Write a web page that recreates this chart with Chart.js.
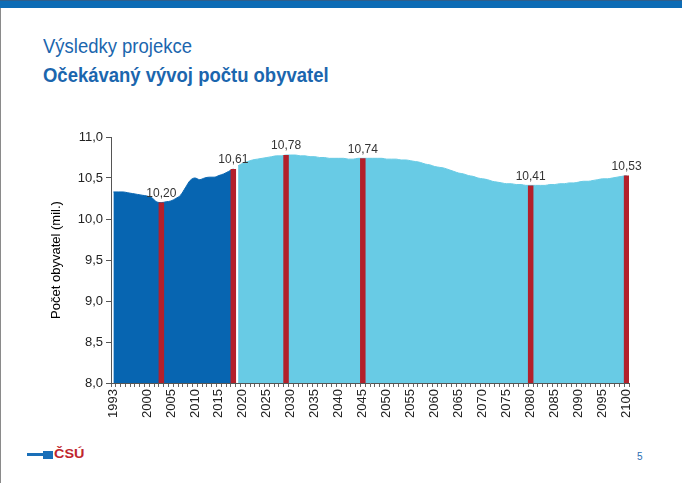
<!DOCTYPE html>
<html>
<head>
<meta charset="utf-8">
<script src="https://cdn.jsdelivr.net/npm/chart.js@4"></script>
<style>
  html, body { margin:0; padding:0; background:#fff; }
  body { width:682px; height:483px; position:relative; overflow:hidden; font-family:"Liberation Sans", Arial, sans-serif; }
  #topbar { position:absolute; left:0; top:0; width:682px; height:8px; background:#0d6cb5; border-top:1px solid #2f5f8c; box-sizing:border-box; }
  #leftline { position:absolute; left:0; top:8px; width:1px; height:475px; background:#8a8a8a; }
  .t { position:absolute; left:43px; font-size:21px; line-height:21px; color:#1b66ae; white-space:nowrap; transform:scaleX(0.88); transform-origin:left top; }
  #t1 { top:35px; }
  #t2 { top:64px; font-weight:bold; }
  #chartwrap { position:absolute; left:0; top:120px; width:682px; height:320px; }
  #logo-bar { position:absolute; left:27px; top:453px; width:17px; height:3px; background:#1a6fb8; }
  #logo-block { position:absolute; left:43px; top:451px; width:10px; height:8px; background:#1a6fb8; }
  #logo-text { position:absolute; left:54px; top:448px; font-size:12px; line-height:13px; font-weight:bold; color:#c0262d; transform:scaleX(1.2); transform-origin:left top; }
  #pagenum { position:absolute; left:637px; top:451px; font-size:10px; line-height:12px; color:#2a6db3; }
</style>
</head>
<body>
<div id="topbar"></div>
<div id="leftline"></div>
<div class="t" id="t1">Výsledky projekce</div>
<div class="t" id="t2">Očekávaný vývoj počtu obyvatel</div>
<div id="chartwrap"><canvas id="c" width="682" height="320"></canvas></div>
<div id="logo-bar"></div>
<div id="logo-block"></div>
<div id="logo-text">ČSÚ</div>
<div id="pagenum">5</div>
<script>
// ---- data ----
const firstYear = 1993;
const lastYear = 2100;

// Historical population (mil.), 1993–2018
const historicValues = [
  10.33, 10.33, 10.33, 10.32, 10.31, 10.30, 10.29, 10.28, 10.26, 10.21,
  10.20, 10.21, 10.22, 10.25, 10.29, 10.38, 10.47, 10.50, 10.48, 10.50,
  10.51, 10.51, 10.53, 10.55, 10.58, 10.61
];
const historicStart = 1993;

// Projection (mil.), 2019–2100
const projectionValues = [
  10.65, 10.68, 10.70, 10.72, 10.73, 10.74, 10.75, 10.76, 10.77, 10.77, // 2019-2028
  10.78, 10.78, 10.78, 10.77, 10.77, 10.76, 10.76, 10.75, 10.75, 10.74, // 2029-2038
  10.74, 10.74, 10.74, 10.73, 10.73, 10.74, 10.74, 10.74, 10.74, 10.74, // 2039-2048
  10.74, 10.73, 10.73, 10.73, 10.72, 10.72, 10.71, 10.70, 10.69, 10.67, // 2049-2058
  10.66, 10.64, 10.63, 10.62, 10.60, 10.58, 10.56, 10.55, 10.53, 10.52, // 2059-2068
  10.50, 10.49, 10.48, 10.46, 10.45, 10.44, 10.43, 10.43, 10.42, 10.42, // 2069-2078
  10.41, 10.41, 10.41, 10.41, 10.41, 10.42, 10.42, 10.43, 10.43, 10.44, // 2079-2088
  10.44, 10.45, 10.46, 10.46, 10.47, 10.48, 10.49, 10.49, 10.50, 10.51, // 2089-2098
  10.52, 10.53                                                           // 2099-2100
];
const projectionStart = 2019;

// Highlighted years (red bars) and their values
const markerYears = [2003, 2018, 2029, 2045, 2080, 2100];
const markerValues = [10.20, 10.61, 10.78, 10.74, 10.41, 10.53];

const yTicks = [8.0, 8.5, 9.0, 9.5, 10.0, 10.5, 11.0];
const yTitle = 'Počet obyvatel (mil.)';

// ---- build tables ----
const years = [];
for (let y = firstYear; y <= lastYear; y++) years.push(y);
const histData = years.map(y => {
  const i = y - historicStart;
  return (i >= 0 && i < historicValues.length) ? historicValues[i] : null;
});
const projData = years.map(y => {
  const i = y - projectionStart;
  return (i >= 0 && i < projectionValues.length) ? projectionValues[i] : null;
});
const markData = years.map(y => {
  const i = markerYears.indexOf(y);
  return i >= 0 ? markerValues[i] : null;
});

const fmt = v => v.toFixed(2).replace('.', ',');
const FONT = '"Liberation Sans", Arial, sans-serif';

const labelPlugin = {
  id: 'markerLabels',
  afterDatasetsDraw(chart) {
    const ctx = chart.ctx;
    const meta = chart.getDatasetMeta(0);
    ctx.save();
    ctx.font = '12px ' + FONT;
    ctx.fillStyle = '#333333';
    ctx.textAlign = 'center';
    ctx.textBaseline = 'bottom';
    meta.data.forEach((el, i) => {
      const v = markData[i];
      if (v == null) return;
      ctx.fillText(fmt(v), el.x, el.y - 3);
    });
    ctx.restore();
  }
};

new Chart(document.getElementById('c'), {
  type: 'bar',
  data: {
    labels: years,
    datasets: [
      { type: 'bar', label: 'marker', data: markData, backgroundColor: '#b3202b', order: 0, grouped: false,
        barPercentage: 1.15, categoryPercentage: 1.0 },
      { type: 'line', label: 'historic', data: histData, backgroundColor: '#0765b1', borderColor: '#0765b1',
        borderWidth: 1, pointRadius: 0, fill: 'start', cubicInterpolationMode: 'monotone', order: 1 },
      { type: 'line', label: 'projection', data: projData, backgroundColor: '#68cbe5', borderColor: '#68cbe5',
        borderWidth: 1, pointRadius: 0, fill: 'start', cubicInterpolationMode: 'monotone', order: 2 }
    ]
  },
  options: {
    responsive: false,
    animation: false,
    events: [],
    layout: { padding: { left: 45, right: 53, top: 17, bottom: 12 } },
    plugins: { legend: { display: false }, tooltip: { enabled: false } },
    scales: {
      x: {
        offset: true,
        grid: { drawOnChartArea: false, drawTicks: true, tickLength: 4, color: '#666', offset: true },
        border: { color: '#555', width: 1 },
        ticks: {
          autoSkip: false, maxRotation: 90, minRotation: 90, padding: 2,
          color: '#222', font: { size: 13, family: FONT },
          callback: function(val, idx) {
            const y = years[idx];
            if (y === firstYear || (y % 5 === 0 && y >= 2000)) return String(y);
            return '';
          }
        },
        afterFit: s => { s.height = 45; }
      },
      y: {
        min: 8, max: 11,
        afterBuildTicks: s => { s.ticks = yTicks.map(v => ({ value: v })); },
        grid: { drawOnChartArea: false, drawTicks: true, tickLength: 5, color: '#555' },
        border: { color: '#555', width: 1 },
        ticks: {
          padding: 3, color: '#222',
          font: { size: 13, family: FONT },
          callback: v => v.toFixed(1).replace('.', ',')
        },
        title: { display: true, text: yTitle, color: '#000',
          font: { size: 13, family: FONT }, padding: 4 },
        afterFit: s => { s.width = 66; }
      }
    }
  },
  plugins: [labelPlugin]
});
</script>
</body>
</html>
